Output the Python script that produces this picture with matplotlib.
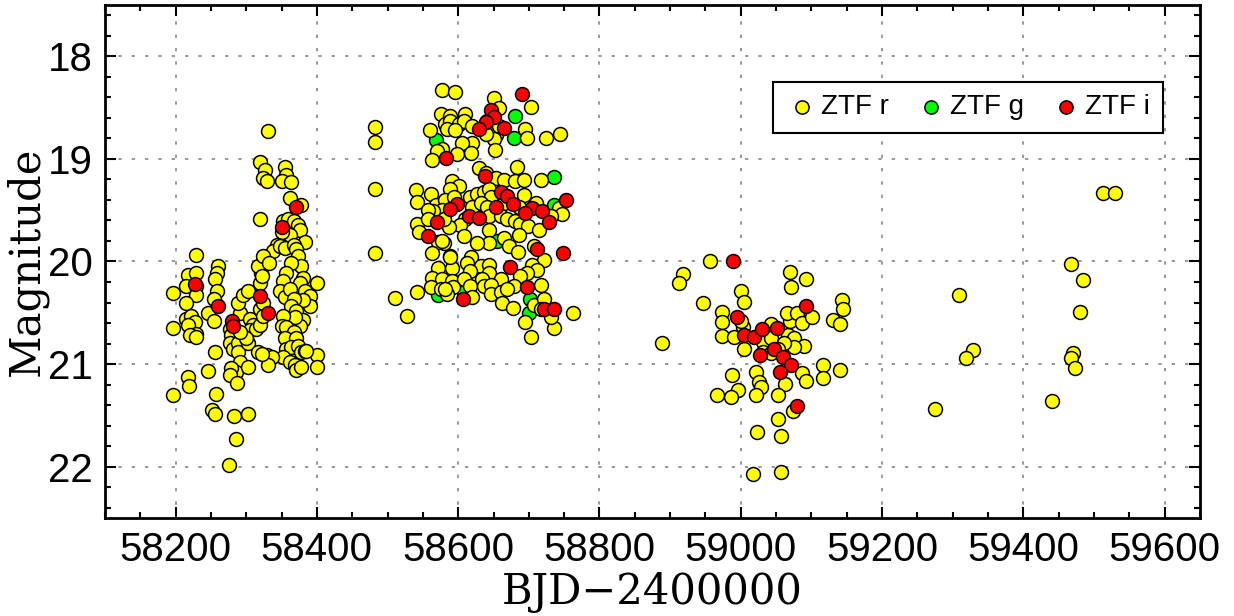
import matplotlib

matplotlib.use("Agg")
import matplotlib.pyplot as plt
from matplotlib.ticker import MultipleLocator

# ZTF r
r_bjd = [
    58197, 58197, 58197,
    58229, 58217, 58229, 58215, 58229, 58229, 58215,
    58260, 58258, 58256, 58259, 58255, 58246, 58255,
    58215, 58222, 58227, 58217, 58229, 58220, 58229,
    58256, 58246, 58217, 58219, 58257, 58251, 58256,
    58283, 58303, 58285, 58275,
    58277, 58279, 58277, 58281, 58288, 58288, 58291, 58286, 58279, 58277,
    58287, 58303, 58291, 58288, 58295, 58303, 58305, 58310, 58305, 58303,
    58314, 58317, 58319, 58300, 58291, 58319, 58321, 58326, 58331, 58317,
    58319, 58324, 58329,
    58319, 58326, 58324, 58329, 58319, 58331,
    58355, 58357, 58350, 58364, 58362, 58378,
    58352, 58359, 58367, 58374, 58376, 58383, 58362, 58350, 58343, 58338,
    58348, 58355, 58367, 58371, 58374, 58378, 58381, 58376, 58383, 58390,
    58390, 58381, 58364, 58357, 58352, 58348, 58355, 58362, 58367, 58364,
    58371, 58381, 58376, 58369, 58352, 58350, 58357, 58367, 58355, 58371,
    58357, 58364, 58374, 58378, 58383, 58352, 58362, 58369, 58371, 58378,
    58336, 58331, 58322, 58400, 58400, 58400, 58385, 58324, 58322, 58332,
    58324,
    58482, 58482, 58482, 58482, 58511, 58527,
    58577, 58595, 58650, 58703, 58658, 58575, 58589, 58610, 58641, 58582,
    58588, 58601, 58608, 58620, 58584, 58596, 58560, 58653, 58646, 58658,
    58695, 58698, 58725, 58744, 58650, 58652, 58620, 58606, 58618, 58598,
    58577, 58570, 58563, 58639,
    58629, 58683, 58640, 58653, 58665, 58681, 58693, 58717, 58591, 58601,
    58589, 58541, 58542, 58562, 58568, 58582, 58594, 58617, 58627, 58636,
    58643, 58646, 58693, 58577, 58565, 58558, 58620, 58632, 58641, 58665,
    58686, 58710, 58743, 58747, 58643, 58660, 58669, 58681, 58688, 58699,
    58714, 58731, 58610, 58603, 58587, 58580, 58542, 58544, 58643, 58686,
    58665, 58608, 58643, 58627, 58672, 58684, 58580, 58572, 58563, 58589,
    58707, 58721, 58558, 58577,
    58618, 58613, 58572, 58591, 58632, 58643, 58617, 58643, 58705, 58712,
    58698, 58688, 58563, 58577, 58591, 58608, 58634, 58660, 58561, 58575,
    58593, 58617, 58636, 58646, 58679, 58717, 58646, 58660, 58669, 58620,
    58542, 58584, 58662, 58677, 58707, 58721, 58717, 58695, 58736, 58763,
    58731, 58703, 58589, 58582,
    58888, 58957, 58918, 58912, 58946, 59000, 59005, 58974, 58973, 58974,
    58990, 59043, 59003, 59000, 59004, 59031, 59043, 59067, 59076, 59090,
    59076, 59061, 59069, 59065, 59079, 59086, 59101, 59069, 59071, 59092,
    59031, 59043, 59052, 59062, 59086, 59092, 59116, 59116, 59141, 59131,
    59140, 59143, 59145, 59022, 59026, 59029, 59021, 59052, 58988, 58996,
    58986, 58967, 59074, 59053, 59023, 59057, 59017, 59057,
    59309, 59328, 59319, 59275, 59468, 59485, 59480, 59470, 59467, 59473,
    59441, 59512, 59530,
]
r_mag = [
    20.31, 20.65, 21.30,
    19.94, 20.13, 20.11, 20.24, 20.24, 20.33, 20.40,
    20.04, 20.11, 20.17, 20.29, 20.37, 20.50, 20.58,
    20.56, 20.53, 20.59, 20.62, 20.71, 20.72, 20.74,
    20.88, 21.07, 21.13, 21.21, 21.29, 21.45, 21.49,
    21.51, 21.49, 21.73, 21.98,
    20.66, 20.72, 20.79, 20.85, 20.79, 20.88, 20.98, 21.08, 21.04, 21.11,
    21.18, 21.03, 20.50, 20.40, 20.33, 20.29, 20.56, 20.62, 20.67, 20.79,
    20.66, 20.88, 20.62, 20.75, 20.69, 20.21, 20.11, 20.00, 19.95, 20.04,
    20.46, 20.40, 20.91,
    19.03, 19.11, 19.19, 19.22, 19.59, 18.73,
    19.08, 19.16, 19.22, 19.23, 19.38, 19.45,
    19.61, 19.59, 19.61, 19.64, 19.69, 19.81, 19.74, 19.71, 19.84, 19.90,
    19.85, 19.87, 19.84, 19.88, 19.95, 20.04, 20.16, 20.21, 20.29, 20.34,
    20.43, 20.38, 20.01, 20.11, 20.19, 20.29, 20.35, 20.27, 20.37, 20.43,
    20.48, 20.57, 20.63, 20.54, 20.53, 20.63, 20.64, 20.69, 20.75, 20.75,
    20.85, 20.83, 20.82, 20.88, 20.87, 20.93, 20.98, 21.01, 21.06, 21.03,
    20.93, 21.01, 20.90, 20.91, 21.03, 20.21, 20.87, 19.95, 20.14, 20.01,
    20.53,
    18.69, 18.84, 19.29, 19.92, 20.36, 20.53,
    18.33, 18.35, 18.41, 18.49, 18.50, 18.56, 18.58, 18.56, 18.63, 18.66,
    18.63, 18.66, 18.63, 18.68, 18.71, 18.72, 18.72, 18.77, 18.72, 18.68,
    18.71, 18.80, 18.80, 18.76, 18.81, 18.91, 18.85, 18.85, 18.94, 18.95,
    18.90, 18.92, 19.01, 18.76,
    19.09, 19.08, 19.14, 19.19, 19.21, 19.22, 19.21, 19.21, 19.22, 19.26,
    19.29, 19.30, 19.42, 19.34, 19.45, 19.40, 19.37, 19.37, 19.34, 19.32,
    19.29, 19.37, 19.35, 19.50, 19.51, 19.50, 19.47, 19.43, 19.47, 19.43,
    19.47, 19.43, 19.48, 19.54, 19.56, 19.56, 19.59, 19.61, 19.63, 19.65,
    19.69, 19.56, 19.59, 19.64, 19.66, 19.59, 19.63, 19.71, 19.69, 19.74,
    19.77, 19.75, 19.82, 19.82, 19.85, 19.91, 19.82, 19.81, 19.92, 19.95,
    19.85, 19.99, 19.59, 19.80,
    19.96, 20.01, 20.06, 20.06, 20.04, 20.03, 20.09, 20.11, 20.03, 20.08,
    20.11, 20.14, 20.16, 20.17, 20.19, 20.17, 20.17, 20.17, 20.25, 20.27,
    20.25, 20.24, 20.24, 20.23, 20.24, 20.23, 20.32, 20.30, 20.27, 20.35,
    20.30, 20.32, 20.40, 20.45, 20.42, 20.37, 20.46, 20.59, 20.65, 20.50,
    20.54, 20.74, 19.96, 20.27,
    20.79, 20.00, 20.12, 20.21, 20.40, 20.29, 20.39, 20.49, 20.59, 20.73,
    20.74, 20.61, 20.64, 20.58, 20.85, 20.78, 20.75, 20.72, 20.75, 20.82,
    20.83, 20.79, 20.58, 20.50, 20.50, 20.60, 20.54, 20.10, 20.25, 20.17,
    20.88, 20.89, 20.85, 21.19, 21.09, 21.16, 21.01, 21.14, 21.06, 20.57,
    20.61, 20.38, 20.46, 21.08, 21.17, 21.22, 21.30, 21.30, 21.11, 21.25,
    21.32, 21.30, 21.46, 21.53, 21.66, 21.70, 22.07, 22.05,
    20.33, 20.86, 20.94, 21.44, 20.02, 20.18, 20.49, 20.89, 20.94, 21.04,
    21.36, 19.33, 19.33,
]

# ZTF g
g_bjd = [58568, 58680, 58679, 58735, 58735, 58655, 58571, 58608, 58702, 58700]
g_mag = [18.82, 18.58, 18.80, 19.18, 19.45, 19.80, 20.33, 20.30, 20.37, 20.50]

# ZTF i
i_bjd = [
    58227, 58260, 58280, 58281, 58319, 58331, 58371, 58351,
    58691, 58646, 58650, 58640, 58629, 58665, 58583, 58638, 58660, 58669,
    58677, 58654, 58598, 58588, 58704, 58718, 58753, 58694, 58616, 58629,
    58728, 58570, 58558, 58712, 58748, 58673, 58698, 58607, 58721, 58736,
    58989, 58995, 59004, 59018, 59030, 59051, 59092, 59047, 59027, 59060,
    59071, 59055, 59080,
]
i_mag = [
    20.22, 20.43, 20.58, 20.63, 20.34, 20.50, 19.47, 19.66,
    18.37, 18.52, 18.59, 18.64, 18.71, 18.70, 18.99, 19.17, 19.32, 19.36,
    19.44, 19.47, 19.44, 19.49, 19.48, 19.51, 19.40, 19.53, 19.56, 19.58,
    19.62, 19.62, 19.75, 19.88, 19.92, 20.05, 20.25, 20.37, 20.46, 20.46,
    20.00, 20.54, 20.72, 20.74, 20.66, 20.65, 20.43, 20.85, 20.91, 20.93,
    21.01, 21.08, 21.41,
]

plt.rcParams["font.family"] = ["Liberation Sans", "DejaVu Sans"]
serif = ["DejaVu Serif"]

fig = plt.figure(figsize=(12.34, 6.16), dpi=100)
ax = fig.add_axes([0.085, 0.159, 0.8875, 0.833])

kw = dict(s=100, edgecolors="black", linewidths=1.1)
hg = ax.scatter(g_bjd, g_mag, c="#00ff00", label="ZTF g", zorder=3, **kw)
hr = ax.scatter(r_bjd, r_mag, c="#ffff00", label="ZTF r", zorder=4, **kw)
hi = ax.scatter(i_bjd, i_mag, c="#ff0000", label="ZTF i", zorder=5, **kw)

ax.set_xlim(58100, 59650)
ax.set_ylim(22.5, 17.5)
ax.xaxis.set_major_locator(MultipleLocator(200))
ax.xaxis.set_minor_locator(MultipleLocator(50))
ax.yaxis.set_major_locator(MultipleLocator(1))
ax.yaxis.set_minor_locator(MultipleLocator(0.2))
ax.tick_params(which="both", direction="in", top=True, right=True, width=1.5)
ax.tick_params(which="major", length=8, labelsize=29, pad=9)
ax.tick_params(which="minor", length=4)
for sp in ax.spines.values():
    sp.set_linewidth(2.0)
ax.grid(True, which="major", color="#888888", linestyle=(0, (2, 6)), linewidth=1.2)
ax.set_axisbelow(True)

ax.set_xlabel("BJD\u22122400000", family=serif, fontsize=30, labelpad=2)
ax.set_ylabel("Magnitude", family=serif, fontsize=30)
ax.yaxis.set_label_coords(-0.052, 0.5)

leg = ax.legend(handles=[hr, hg, hi], loc="upper right", ncol=3,
                bbox_to_anchor=(0.966, 0.85), borderaxespad=0,
                fancybox=False, framealpha=1, edgecolor="black",
                prop={"family": "Liberation Sans", "size": 20},
                markerscale=0.95, handletextpad=0.1, columnspacing=0.9,
                handlelength=1.2, borderpad=0.45)
leg.get_frame().set_linewidth(1.5)

fig.savefig("out.png", dpi=100)
